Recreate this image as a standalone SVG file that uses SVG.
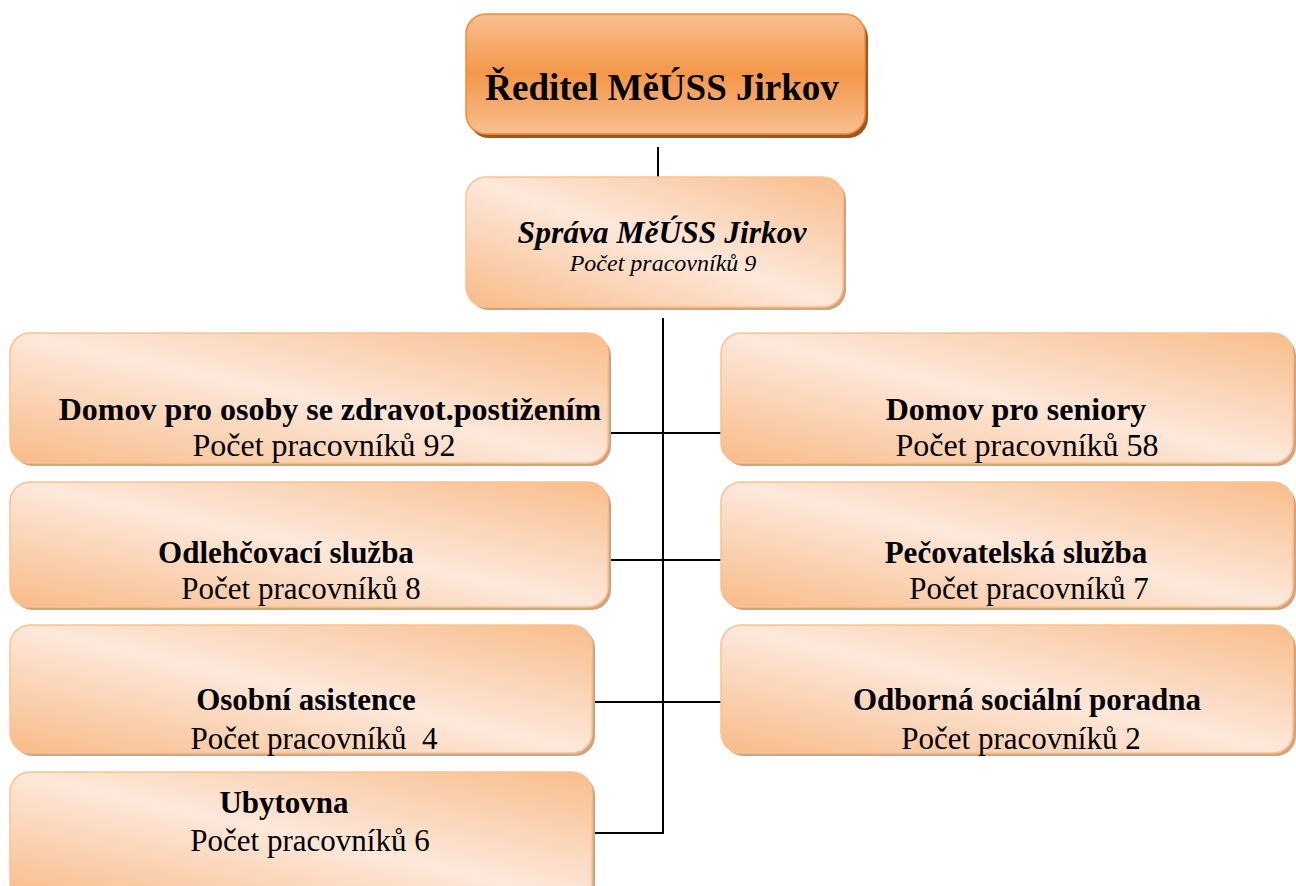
<svg xmlns="http://www.w3.org/2000/svg" width="1296" height="886" viewBox="0 0 1296 886">
<defs>
<linearGradient id="gLight" x1="0" y1="1" x2="1" y2="0">
<stop offset="0" stop-color="#f8bb88"/>
<stop offset="0.5" stop-color="#fde8da"/>
<stop offset="1" stop-color="#f8bd8b"/>
</linearGradient>
<linearGradient id="gTop" x1="0" y1="0" x2="0" y2="1">
<stop offset="0" stop-color="#f8bf90"/>
<stop offset="0.5" stop-color="#f4974a"/>
<stop offset="1" stop-color="#f8bf90"/>
</linearGradient>
<style>
.box{fill:url(#gLight);stroke:#f9c293;stroke-width:1.5}
.shadow{fill:#d4a27c}
.topbox{fill:url(#gTop);stroke:#f08c3a;stroke-width:1.5}
.topshadow{fill:#a0561c}
.t{font-family:"Liberation Serif","Times New Roman",serif;fill:#000;text-anchor:middle}
.b{font-weight:bold}
.i{font-style:italic}
.conn{stroke:#000;stroke-width:2;fill:none}
</style>
</defs>
<rect width="1296" height="886" fill="#fff"/>
<g id="connectors">
<path class="conn" d="M658 147V177"/>
<path class="conn" d="M663 318V833H593"/>
<path class="conn" d="M609 433H722"/>
<path class="conn" d="M609 560H722"/>
<path class="conn" d="M593 702H722"/>
</g>
<g id="reditel">
<rect class="topshadow" x="469" y="18" width="399" height="120" rx="20"/>
<rect class="topbox" x="466" y="14" width="399" height="120" rx="20"/>
<text class="t b" x="662" y="100" font-size="37">Ředitel MěÚSS Jirkov</text>
</g>
<g id="sprava">
<rect class="shadow" x="469" y="180" width="377" height="130" rx="20"/>
<rect class="box" x="466" y="177" width="377" height="130" rx="20"/>
<text class="t b i" x="662" y="243" font-size="31.5">Správa MěÚSS Jirkov</text>
<text class="t i" x="663" y="271" font-size="24">Počet pracovníků 9</text>
</g>
<g id="dozp">
<rect class="shadow" x="13" y="336" width="598" height="130" rx="20"/>
<rect class="box" x="10" y="333" width="598" height="130" rx="20"/>
<text class="t b" x="330" y="420" font-size="32">Domov pro osoby se zdravot.postižením</text>
<text class="t" x="324" y="456" font-size="32">Počet pracovníků 92</text>
</g>
<g id="odlehcovaci">
<rect class="shadow" x="13" y="485" width="598" height="125" rx="20"/>
<rect class="box" x="10" y="482" width="598" height="125" rx="20"/>
<text class="t b" x="286" y="563" font-size="31">Odlehčovací služba</text>
<text class="t" x="301" y="599" font-size="31">Počet pracovníků 8</text>
</g>
<g id="osobni">
<rect class="shadow" x="13" y="628" width="582" height="128" rx="20"/>
<rect class="box" x="10" y="625" width="582" height="128" rx="20"/>
<text class="t b" x="306" y="710" font-size="31">Osobní asistence</text>
<text class="t" x="314" y="749" font-size="31" xml:space="preserve">Počet pracovníků  4</text>
</g>
<g id="ubytovna">
<rect class="shadow" x="13" y="775" width="582" height="130" rx="20"/>
<rect class="box" x="10" y="772" width="582" height="130" rx="20"/>
<text class="t b" x="284" y="813" font-size="31">Ubytovna</text>
<text class="t" x="310" y="851" font-size="31">Počet pracovníků 6</text>
</g>
<g id="seniori">
<rect class="shadow" x="724" y="336" width="572" height="130" rx="20"/>
<rect class="box" x="721" y="333" width="572" height="130" rx="20"/>
<text class="t b" x="1016" y="420" font-size="32">Domov pro seniory</text>
<text class="t" x="1027" y="456" font-size="32">Počet pracovníků 58</text>
</g>
<g id="pecovatelska">
<rect class="shadow" x="724" y="485" width="572" height="125" rx="20"/>
<rect class="box" x="721" y="482" width="572" height="125" rx="20"/>
<text class="t b" x="1016" y="563" font-size="31">Pečovatelská služba</text>
<text class="t" x="1029" y="599" font-size="31">Počet pracovníků 7</text>
</g>
<g id="poradna">
<rect class="shadow" x="724" y="628" width="572" height="128" rx="20"/>
<rect class="box" x="721" y="625" width="572" height="128" rx="20"/>
<text class="t b" x="1027" y="710" font-size="31">Odborná sociální poradna</text>
<text class="t" x="1021" y="749" font-size="31">Počet pracovníků 2</text>
</g>
</svg>
